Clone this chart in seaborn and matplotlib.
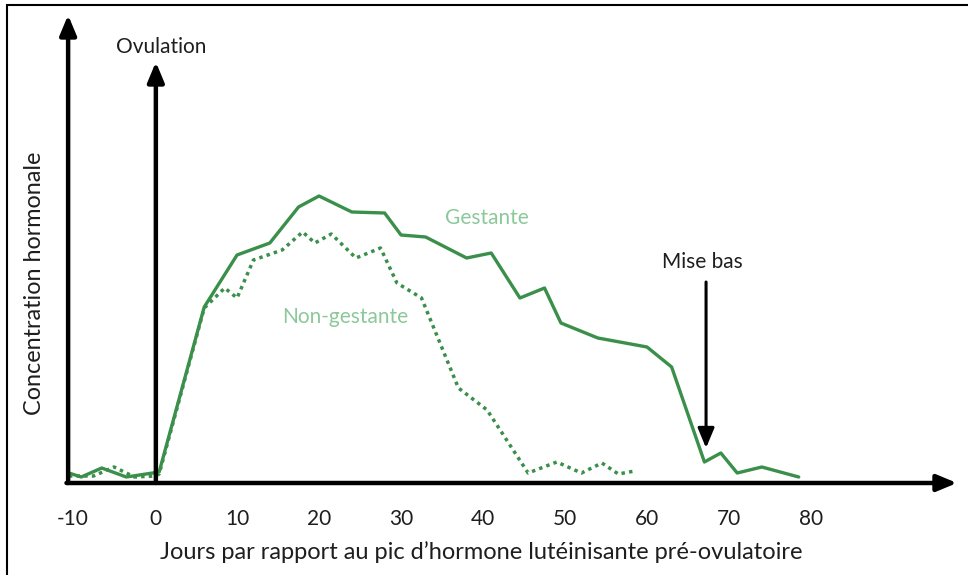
import matplotlib
matplotlib.use('Agg')
import matplotlib.pyplot as plt
import seaborn as sns
import pandas as pd
from matplotlib.patches import Rectangle

sns.set_style('white')
plt.rcParams['font.family'] = ['Lato', 'DejaVu Sans']

# ── data (days vs. arbitrary concentration) ──
days_gest = [-10.5, -9, -6.5, -3.5, 0.5, 6, 10, 14, 17.5, 20, 24, 28, 30, 33,
             38, 41, 44.5, 47.5, 49.5, 54, 60, 63, 67, 69, 71, 74, 78.5]
conc_gest = [10, 6, 15, 6, 11, 176, 228, 240, 276, 287, 271, 270, 248, 246,
             225, 230, 185, 195, 160, 145, 136, 116, 21, 30, 10, 16, 6]

days_nong = [-10.5, -7.5, -5, -2.5, 0, 0.5, 6, 8.5, 10, 12, 15.5, 18, 19.5,
             21.5, 24.5, 27.5, 29.5, 32.5, 37, 40.5, 45.5, 49, 52, 54.5, 56.5, 58.5]
conc_nong = [7, 7, 16, 6, 7, 9, 175, 195, 185, 223, 233, 251, 240,
             249, 225, 235, 200, 185, 95, 73, 10, 21, 10, 20, 9, 12]

xticks = [-10, 0, 10, 20, 30, 40, 50, 60, 70, 80]

LINE = '#3a8f4a'
LABEL = '#8cc89a'
TXT = '#1e1e1e'

df_g = pd.DataFrame({'jour': days_gest, 'conc': conc_gest})
df_n = pd.DataFrame({'jour': days_nong, 'conc': conc_nong})

W, H = 968, 575
fig = plt.figure(figsize=(W / 100, H / 100), dpi=100)
# frame around the picture (cut at right / bottom like the source)
fig.patches.append(Rectangle((7 / W, -0.05), 1.1, (H - 5) / H + 0.05,
                             transform=fig.transFigure, fill=False,
                             edgecolor='black', linewidth=1.5))

ax = fig.add_axes([60 / W, (H - 483) / H, 900 / W, 473 / H])
ax.set_xlim(-11.59, 98.17)
ax.set_ylim(0, 473)
for s in ax.spines.values():
    s.set_visible(False)

sns.lineplot(data=df_g, x='jour', y='conc', ax=ax, color=LINE, linewidth=2.4,
             sort=False, estimator=None)
sns.lineplot(data=df_n, x='jour', y='conc', ax=ax, color=LINE, linewidth=2.5,
             linestyle=(0, (1, 1.2)), sort=False, estimator=None)

arr = dict(arrowstyle='-|>,head_length=1.2,head_width=0.5', color='black',
           linewidth=3.2, shrinkA=0, shrinkB=0)
# axes arrows
ax.annotate('', xy=(-10.6, 468), xytext=(-10.6, 0), arrowprops=arr)
ax.annotate('', xy=(97.8, 0), xytext=(-10.8, 0), arrowprops=arr)
# ovulation
ax.annotate('', xy=(0.1, 421), xytext=(0.1, 0), arrowprops=arr)
ax.text(0.7, 436, 'Ovulation', ha='center', va='center', fontsize=15,
        color=TXT)
# parturition
arr2 = dict(arr, linewidth=2.2)
ax.annotate('', xy=(67.2, 35), xytext=(67.2, 201), arrowprops=arr2)
ax.text(66.8, 221, 'Mise bas', ha='center', va='center', fontsize=15,
        color=TXT)

ax.text(40.5, 265, 'Gestante', ha='center', va='center', fontsize=15,
        color=LABEL)
ax.text(23.2, 166, 'Non-gestante', ha='center', va='center', fontsize=15,
        color=LABEL)

ax.set_xticks(xticks)
ax.set_xticklabels([str(t) for t in xticks], fontsize=15, color=TXT)
ax.tick_params(axis='x', length=0, pad=19)
ax.set_yticks([])
ax.set_xlabel("Jours par rapport au pic d\u2019hormone lut\u00e9inisante pr\u00e9-ovulatoire",
              fontsize=17, color=TXT)
ax.set_ylabel('Concentration hormonale', fontsize=16.8, color=TXT)
ax.xaxis.set_label_coords((481 - 60) / 900, -(552 - 483) / 473)
ax.yaxis.set_label_coords((35 - 60) / 900, (483 - 283) / 473)
ax.xaxis.label.set_va('center')
ax.yaxis.label.set_va('center')

fig.savefig('out.png', dpi=100)
